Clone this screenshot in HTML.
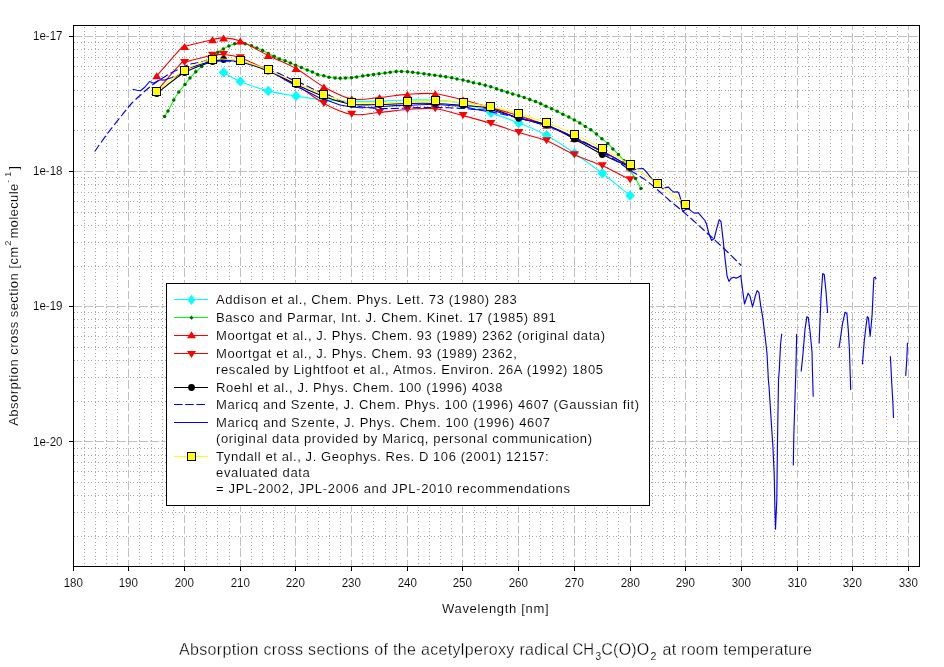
<!DOCTYPE html>
<html><head><meta charset="utf-8"><title>Absorption cross sections of CH3C(O)O2</title>
<style>
html,body{margin:0;padding:0;background:#fff;width:944px;height:667px;overflow:hidden}
svg{display:block}
text{font-family:"Liberation Sans",Arial,sans-serif;fill:#000;stroke:#fff;stroke-width:0.1px}
.ttl text{stroke-width:0.3px}
.mi{stroke:#a8a8a8;stroke-width:1;stroke-dasharray:1 2 1 3}
.miv{stroke:#a8a8a8;stroke-width:1;stroke-dasharray:1 3 1 2;stroke-dashoffset:-1}
.ma{stroke:#c0c0c0;stroke-width:1;stroke-dasharray:8.4 2.8;stroke-dashoffset:4}
.mah{stroke:#c0c0c0;stroke-width:1;stroke-dasharray:9 2;stroke-dashoffset:1}
</style></head><body>
<svg width="944" height="667" viewBox="0 0 944 667"><defs><clipPath id="clip"><rect x="74" y="26" width="845" height="540"/></clipPath></defs><g shape-rendering="crispEdges"><line x1="84.5" y1="26" x2="84.5" y2="566" class="miv"/><line x1="95.5" y1="26" x2="95.5" y2="566" class="miv"/><line x1="106.5" y1="26" x2="106.5" y2="566" class="miv"/><line x1="117.5" y1="26" x2="117.5" y2="566" class="miv"/><line x1="139.5" y1="26" x2="139.5" y2="566" class="miv"/><line x1="151.5" y1="26" x2="151.5" y2="566" class="miv"/><line x1="162.5" y1="26" x2="162.5" y2="566" class="miv"/><line x1="173.5" y1="26" x2="173.5" y2="566" class="miv"/><line x1="195.5" y1="26" x2="195.5" y2="566" class="miv"/><line x1="206.5" y1="26" x2="206.5" y2="566" class="miv"/><line x1="217.5" y1="26" x2="217.5" y2="566" class="miv"/><line x1="229.5" y1="26" x2="229.5" y2="566" class="miv"/><line x1="251.5" y1="26" x2="251.5" y2="566" class="miv"/><line x1="262.5" y1="26" x2="262.5" y2="566" class="miv"/><line x1="273.5" y1="26" x2="273.5" y2="566" class="miv"/><line x1="284.5" y1="26" x2="284.5" y2="566" class="miv"/><line x1="307.5" y1="26" x2="307.5" y2="566" class="miv"/><line x1="318.5" y1="26" x2="318.5" y2="566" class="miv"/><line x1="329.5" y1="26" x2="329.5" y2="566" class="miv"/><line x1="340.5" y1="26" x2="340.5" y2="566" class="miv"/><line x1="362.5" y1="26" x2="362.5" y2="566" class="miv"/><line x1="373.5" y1="26" x2="373.5" y2="566" class="miv"/><line x1="385.5" y1="26" x2="385.5" y2="566" class="miv"/><line x1="396.5" y1="26" x2="396.5" y2="566" class="miv"/><line x1="418.5" y1="26" x2="418.5" y2="566" class="miv"/><line x1="429.5" y1="26" x2="429.5" y2="566" class="miv"/><line x1="440.5" y1="26" x2="440.5" y2="566" class="miv"/><line x1="451.5" y1="26" x2="451.5" y2="566" class="miv"/><line x1="474.5" y1="26" x2="474.5" y2="566" class="miv"/><line x1="485.5" y1="26" x2="485.5" y2="566" class="miv"/><line x1="496.5" y1="26" x2="496.5" y2="566" class="miv"/><line x1="507.5" y1="26" x2="507.5" y2="566" class="miv"/><line x1="529.5" y1="26" x2="529.5" y2="566" class="miv"/><line x1="540.5" y1="26" x2="540.5" y2="566" class="miv"/><line x1="552.5" y1="26" x2="552.5" y2="566" class="miv"/><line x1="563.5" y1="26" x2="563.5" y2="566" class="miv"/><line x1="585.5" y1="26" x2="585.5" y2="566" class="miv"/><line x1="596.5" y1="26" x2="596.5" y2="566" class="miv"/><line x1="607.5" y1="26" x2="607.5" y2="566" class="miv"/><line x1="618.5" y1="26" x2="618.5" y2="566" class="miv"/><line x1="641.5" y1="26" x2="641.5" y2="566" class="miv"/><line x1="652.5" y1="26" x2="652.5" y2="566" class="miv"/><line x1="663.5" y1="26" x2="663.5" y2="566" class="miv"/><line x1="674.5" y1="26" x2="674.5" y2="566" class="miv"/><line x1="696.5" y1="26" x2="696.5" y2="566" class="miv"/><line x1="707.5" y1="26" x2="707.5" y2="566" class="miv"/><line x1="719.5" y1="26" x2="719.5" y2="566" class="miv"/><line x1="730.5" y1="26" x2="730.5" y2="566" class="miv"/><line x1="752.5" y1="26" x2="752.5" y2="566" class="miv"/><line x1="763.5" y1="26" x2="763.5" y2="566" class="miv"/><line x1="774.5" y1="26" x2="774.5" y2="566" class="miv"/><line x1="785.5" y1="26" x2="785.5" y2="566" class="miv"/><line x1="808.5" y1="26" x2="808.5" y2="566" class="miv"/><line x1="819.5" y1="26" x2="819.5" y2="566" class="miv"/><line x1="830.5" y1="26" x2="830.5" y2="566" class="miv"/><line x1="841.5" y1="26" x2="841.5" y2="566" class="miv"/><line x1="863.5" y1="26" x2="863.5" y2="566" class="miv"/><line x1="875.5" y1="26" x2="875.5" y2="566" class="miv"/><line x1="886.5" y1="26" x2="886.5" y2="566" class="miv"/><line x1="897.5" y1="26" x2="897.5" y2="566" class="miv"/><line x1="74" y1="536.5" x2="919" y2="536.5" class="mi"/><line x1="74" y1="512.5" x2="919" y2="512.5" class="mi"/><line x1="74" y1="495.5" x2="919" y2="495.5" class="mi"/><line x1="74" y1="482.5" x2="919" y2="482.5" class="mi"/><line x1="74" y1="471.5" x2="919" y2="471.5" class="mi"/><line x1="74" y1="462.5" x2="919" y2="462.5" class="mi"/><line x1="74" y1="455.5" x2="919" y2="455.5" class="mi"/><line x1="74" y1="448.5" x2="919" y2="448.5" class="mi"/><line x1="74" y1="401.5" x2="919" y2="401.5" class="mi"/><line x1="74" y1="377.5" x2="919" y2="377.5" class="mi"/><line x1="74" y1="360.5" x2="919" y2="360.5" class="mi"/><line x1="74" y1="347.5" x2="919" y2="347.5" class="mi"/><line x1="74" y1="336.5" x2="919" y2="336.5" class="mi"/><line x1="74" y1="327.5" x2="919" y2="327.5" class="mi"/><line x1="74" y1="319.5" x2="919" y2="319.5" class="mi"/><line x1="74" y1="312.5" x2="919" y2="312.5" class="mi"/><line x1="74" y1="266.5" x2="919" y2="266.5" class="mi"/><line x1="74" y1="242.5" x2="919" y2="242.5" class="mi"/><line x1="74" y1="225.5" x2="919" y2="225.5" class="mi"/><line x1="74" y1="212.5" x2="919" y2="212.5" class="mi"/><line x1="74" y1="201.5" x2="919" y2="201.5" class="mi"/><line x1="74" y1="192.5" x2="919" y2="192.5" class="mi"/><line x1="74" y1="184.5" x2="919" y2="184.5" class="mi"/><line x1="74" y1="177.5" x2="919" y2="177.5" class="mi"/><line x1="74" y1="130.5" x2="919" y2="130.5" class="mi"/><line x1="74" y1="106.5" x2="919" y2="106.5" class="mi"/><line x1="74" y1="90.5" x2="919" y2="90.5" class="mi"/><line x1="74" y1="76.5" x2="919" y2="76.5" class="mi"/><line x1="74" y1="66.5" x2="919" y2="66.5" class="mi"/><line x1="74" y1="57.5" x2="919" y2="57.5" class="mi"/><line x1="74" y1="49.5" x2="919" y2="49.5" class="mi"/><line x1="74" y1="42.5" x2="919" y2="42.5" class="mi"/><line x1="128.5" y1="26" x2="128.5" y2="566" class="ma"/><line x1="184.5" y1="26" x2="184.5" y2="566" class="ma"/><line x1="240.5" y1="26" x2="240.5" y2="566" class="ma"/><line x1="295.5" y1="26" x2="295.5" y2="566" class="ma"/><line x1="351.5" y1="26" x2="351.5" y2="566" class="ma"/><line x1="407.5" y1="26" x2="407.5" y2="566" class="ma"/><line x1="462.5" y1="26" x2="462.5" y2="566" class="ma"/><line x1="518.5" y1="26" x2="518.5" y2="566" class="ma"/><line x1="574.5" y1="26" x2="574.5" y2="566" class="ma"/><line x1="630.5" y1="26" x2="630.5" y2="566" class="ma"/><line x1="685.5" y1="26" x2="685.5" y2="566" class="ma"/><line x1="741.5" y1="26" x2="741.5" y2="566" class="ma"/><line x1="797.5" y1="26" x2="797.5" y2="566" class="ma"/><line x1="852.5" y1="26" x2="852.5" y2="566" class="ma"/><line x1="908.5" y1="26" x2="908.5" y2="566" class="ma"/><line x1="74" y1="36.5" x2="919" y2="36.5" class="mah"/><line x1="74" y1="171.5" x2="919" y2="171.5" class="mah"/><line x1="74" y1="306.5" x2="919" y2="306.5" class="mah"/><line x1="74" y1="441.5" x2="919" y2="441.5" class="mah"/></g>
<g clip-path="url(#clip)"><path d="M223.6,72.4C226.4,73.9 232.9,78.3 240.3,81.4C247.8,84.5 258.9,88.5 268.2,90.9C277.5,93.4 286.7,94.6 296,96.1C305.3,97.6 314.6,98.9 323.9,99.8C333.1,100.7 342.4,101.1 351.7,101.3C361,101.5 370.3,101.2 379.5,101C388.8,100.8 398.1,100.1 407.4,100C416.7,99.9 425.9,99.7 435.2,100.3C444.5,100.9 453.8,101.4 463.1,103.5C472.4,105.6 481.6,109.5 490.9,112.7C500.2,116 509.5,119.2 518.8,123C528,126.8 537.3,130.3 546.6,135.3C555.9,140.3 565.2,146.9 574.4,153.2C583.7,159.5 593,166.1 602.3,173.2C611.6,180.3 625.5,191.9 630.1,195.6" fill="none" stroke="#00ffff" stroke-width="1.1"/><g fill="#00ffff"><path d="M223.6,67.2 L228.4,72.4 L223.6,77.6 L218.8,72.4Z"/><path d="M240.3,76.2 L245.1,81.4 L240.3,86.6 L235.5,81.4Z"/><path d="M268.2,85.7 L273,90.9 L268.2,96.1 L263.4,90.9Z"/><path d="M296,90.9 L300.8,96.1 L296,101.3 L291.2,96.1Z"/><path d="M323.9,94.6 L328.7,99.8 L323.9,105 L319.1,99.8Z"/><path d="M351.7,96.1 L356.5,101.3 L351.7,106.5 L346.9,101.3Z"/><path d="M379.5,95.8 L384.3,101 L379.5,106.2 L374.7,101Z"/><path d="M407.4,94.8 L412.2,100 L407.4,105.2 L402.6,100Z"/><path d="M435.2,95.1 L440,100.3 L435.2,105.5 L430.4,100.3Z"/><path d="M463.1,98.3 L467.9,103.5 L463.1,108.7 L458.3,103.5Z"/><path d="M490.9,107.5 L495.7,112.7 L490.9,117.9 L486.1,112.7Z"/><path d="M518.8,117.8 L523.6,123 L518.8,128.2 L514,123Z"/><path d="M546.6,130.1 L551.4,135.3 L546.6,140.5 L541.8,135.3Z"/><path d="M574.4,148 L579.2,153.2 L574.4,158.4 L569.6,153.2Z"/><path d="M602.3,168 L607.1,173.2 L602.3,178.4 L597.5,173.2Z"/><path d="M630.1,190.4 L634.9,195.6 L630.1,200.8 L625.3,195.6Z"/></g><path d="M164.6,116.5C165.2,115.6 166.5,113.8 168,111C169.5,108.2 172,103.2 173.8,100C175.6,96.8 176.9,94.6 178.8,92C180.7,89.4 183.1,86.9 185,84.6C186.9,82.2 188.2,80 190,77.9C191.8,75.8 193.9,73.7 195.8,71.8C197.8,69.9 199.8,68.2 201.7,66.5C203.6,64.8 205.2,63.2 207,61.5C208.8,59.8 210.7,58 212.5,56.5C214.3,55 216,53.5 217.8,52.2C219.6,50.9 221.6,50 223.4,48.9C225.2,47.8 227,46.8 228.9,45.9C230.8,45 232.8,44.3 234.7,43.8C236.5,43.3 238.2,42.8 240,42.8C241.8,42.8 243.3,43.2 245.2,43.7C247.1,44.2 249.6,45.1 251.5,45.8C253.4,46.5 255,47.1 256.8,47.9C258.7,48.7 260.7,49.5 262.6,50.5C264.5,51.5 266.4,52.6 268.3,53.6C270.2,54.6 272.3,55.4 274.1,56.3C275.9,57.2 277.5,58.1 279.3,58.9C281.1,59.6 283.2,60.1 285.1,60.8C287,61.5 288.6,62.4 290.4,63.1C292.1,63.8 293.8,64.5 295.6,65.2C297.4,65.9 299.5,66.7 301.4,67.5C303.3,68.3 305.4,69.2 307.2,69.9C309,70.7 310.7,71.2 312.4,72C314.1,72.8 315.7,73.8 317.6,74.4C319.5,75 321.9,75.3 323.8,75.8C325.7,76.3 327.1,76.8 329,77.2C330.9,77.6 333.1,77.8 335,78C336.9,78.2 338.4,78.2 340.2,78.2C341.9,78.2 343.6,78.1 345.5,78C347.4,77.9 349.6,77.9 351.5,77.7C353.4,77.5 354.8,77.3 356.7,77C358.6,76.7 360.8,76.2 362.7,75.9C364.6,75.6 366.2,75.4 368,75.2C369.8,75 371.7,74.8 373.5,74.5C375.3,74.2 377.1,74 379,73.7C380.9,73.5 383.1,73.2 385,73C386.9,72.8 388.3,72.4 390.2,72.2C392.1,72 394.3,71.7 396.2,71.6C398.1,71.5 399.6,71.5 401.5,71.5C403.4,71.5 405.6,71.7 407.5,71.8C409.4,71.9 410.9,72 412.7,72.2C414.4,72.4 416.1,72.8 418,73C419.9,73.2 422.1,73.5 424,73.7C425.9,74 427.4,74.2 429.2,74.5C431,74.8 432.9,75 434.8,75.2C436.7,75.5 438.7,75.7 440.5,76C442.3,76.3 443.8,76.5 445.7,76.8C447.6,77.1 449.8,77.4 451.7,77.8C453.6,78.2 455.1,78.6 457,79C458.9,79.4 461.1,79.6 463,80C464.9,80.4 466.4,80.8 468.2,81.2C469.9,81.7 471.6,82.3 473.5,82.7C475.4,83.1 477.6,83.4 479.5,83.8C481.4,84.2 483.3,84.7 485.2,85.2C487.1,85.7 488.9,86.2 490.8,86.8C492.7,87.4 494.7,88.1 496.5,88.7C498.3,89.3 499.9,90 501.7,90.6C503.5,91.2 505.5,91.7 507.3,92.2C509.1,92.8 510.8,93.3 512.7,93.9C514.6,94.5 516.8,95.2 518.7,95.8C520.6,96.4 522.4,96.9 524.2,97.5C526.1,98.1 527.9,98.9 529.8,99.6C531.7,100.3 533.7,100.9 535.5,101.6C537.3,102.3 539,103 540.7,103.8C542.5,104.6 544.2,105.4 546,106.2C547.8,107 549.8,108 551.7,108.8C553.6,109.6 555.3,110.3 557.2,111.2C559.1,112.1 561,113.3 562.9,114.3C564.8,115.3 566.9,116.1 568.8,117.1C570.7,118.1 572.5,119.1 574.3,120.1C576.1,121.1 578,122 579.8,123C581.6,124 583.5,125.3 585.3,126.4C587.1,127.5 588.9,128.5 590.8,129.8C592.6,131.1 594.5,132.6 596.4,134.1C598.2,135.6 600,137.1 601.9,138.7C603.8,140.2 606,141.7 607.8,143.4C609.6,145.1 611.1,147.1 612.9,148.9C614.7,150.7 616.5,152.4 618.4,154.4C620.2,156.4 622.1,158.2 624,160.8C625.9,163.4 627.8,167.2 629.7,170.2C631.6,173.1 633.6,175.4 635.5,178.5C637.4,181.6 640.1,186.9 641,188.6" fill="none" stroke="#00ff00" stroke-width="1.1"/><g fill="#006800"><circle cx="164.6" cy="116.5" r="1.75"/><circle cx="168" cy="111" r="1.75"/><circle cx="173.8" cy="100" r="1.75"/><circle cx="178.8" cy="92" r="1.75"/><circle cx="185" cy="84.6" r="1.75"/><circle cx="190" cy="77.9" r="1.75"/><circle cx="195.8" cy="71.8" r="1.75"/><circle cx="201.7" cy="66.5" r="1.75"/><circle cx="207" cy="61.5" r="1.75"/><circle cx="212.5" cy="56.5" r="1.75"/><circle cx="217.8" cy="52.2" r="1.75"/><circle cx="223.4" cy="48.9" r="1.75"/><circle cx="228.9" cy="45.9" r="1.75"/><circle cx="234.7" cy="43.8" r="1.75"/><circle cx="240" cy="42.8" r="1.75"/><circle cx="245.2" cy="43.7" r="1.75"/><circle cx="251.5" cy="45.8" r="1.75"/><circle cx="256.8" cy="47.9" r="1.75"/><circle cx="262.6" cy="50.5" r="1.75"/><circle cx="268.3" cy="53.6" r="1.75"/><circle cx="274.1" cy="56.3" r="1.75"/><circle cx="279.3" cy="58.9" r="1.75"/><circle cx="285.1" cy="60.8" r="1.75"/><circle cx="290.4" cy="63.1" r="1.75"/><circle cx="295.6" cy="65.2" r="1.75"/><circle cx="301.4" cy="67.5" r="1.75"/><circle cx="307.2" cy="69.9" r="1.75"/><circle cx="312.4" cy="72" r="1.75"/><circle cx="317.6" cy="74.4" r="1.75"/><circle cx="323.8" cy="75.8" r="1.75"/><circle cx="329" cy="77.2" r="1.75"/><circle cx="335" cy="78" r="1.75"/><circle cx="340.2" cy="78.2" r="1.75"/><circle cx="345.5" cy="78" r="1.75"/><circle cx="351.5" cy="77.7" r="1.75"/><circle cx="356.7" cy="77" r="1.75"/><circle cx="362.7" cy="75.9" r="1.75"/><circle cx="368" cy="75.2" r="1.75"/><circle cx="373.5" cy="74.5" r="1.75"/><circle cx="379" cy="73.7" r="1.75"/><circle cx="385" cy="73" r="1.75"/><circle cx="390.2" cy="72.2" r="1.75"/><circle cx="396.2" cy="71.6" r="1.75"/><circle cx="401.5" cy="71.5" r="1.75"/><circle cx="407.5" cy="71.8" r="1.75"/><circle cx="412.7" cy="72.2" r="1.75"/><circle cx="418" cy="73" r="1.75"/><circle cx="424" cy="73.7" r="1.75"/><circle cx="429.2" cy="74.5" r="1.75"/><circle cx="434.8" cy="75.2" r="1.75"/><circle cx="440.5" cy="76" r="1.75"/><circle cx="445.7" cy="76.8" r="1.75"/><circle cx="451.7" cy="77.8" r="1.75"/><circle cx="457" cy="79" r="1.75"/><circle cx="463" cy="80" r="1.75"/><circle cx="468.2" cy="81.2" r="1.75"/><circle cx="473.5" cy="82.7" r="1.75"/><circle cx="479.5" cy="83.8" r="1.75"/><circle cx="485.2" cy="85.2" r="1.75"/><circle cx="490.8" cy="86.8" r="1.75"/><circle cx="496.5" cy="88.7" r="1.75"/><circle cx="501.7" cy="90.6" r="1.75"/><circle cx="507.3" cy="92.2" r="1.75"/><circle cx="512.7" cy="93.9" r="1.75"/><circle cx="518.7" cy="95.8" r="1.75"/><circle cx="524.2" cy="97.5" r="1.75"/><circle cx="529.8" cy="99.6" r="1.75"/><circle cx="535.5" cy="101.6" r="1.75"/><circle cx="540.7" cy="103.8" r="1.75"/><circle cx="546" cy="106.2" r="1.75"/><circle cx="551.7" cy="108.8" r="1.75"/><circle cx="557.2" cy="111.2" r="1.75"/><circle cx="562.9" cy="114.3" r="1.75"/><circle cx="568.8" cy="117.1" r="1.75"/><circle cx="574.3" cy="120.1" r="1.75"/><circle cx="579.8" cy="123" r="1.75"/><circle cx="585.3" cy="126.4" r="1.75"/><circle cx="590.8" cy="129.8" r="1.75"/><circle cx="596.4" cy="134.1" r="1.75"/><circle cx="601.9" cy="138.7" r="1.75"/><circle cx="607.8" cy="143.4" r="1.75"/><circle cx="612.9" cy="148.9" r="1.75"/><circle cx="618.4" cy="154.4" r="1.75"/><circle cx="624" cy="160.8" r="1.75"/><circle cx="629.7" cy="170.2" r="1.75"/><circle cx="635.5" cy="178.5" r="1.75"/><circle cx="641" cy="188.6" r="1.75"/></g><path d="M156.8,75.8C160.6,71.5 175,54.7 179.6,49.8C184.3,44.9 179.2,48.1 184.6,46.4C190.1,44.7 206,41.1 212.5,39.7C219,38.3 219,37.7 223.6,37.9C228.3,38.1 232.9,38.2 240.3,41.1C247.8,44 258.9,50.9 268.2,55.5C277.5,60.1 286.7,63.3 296,68.6C305.3,73.8 314.6,81.9 323.9,87C333.1,92.1 342.4,97.2 351.7,99C361,100.8 370.3,98.3 379.5,97.5C388.8,96.7 398.1,95 407.4,94.4C416.7,93.8 425.9,92.8 435.2,93.7C444.5,94.6 453.8,97.7 463.1,100C472.4,102.3 481.6,105 490.9,107.6C500.2,110.2 509.5,112.8 518.8,115.8C528,118.8 537.3,121.5 546.6,125.3C555.9,129.1 565.2,134.2 574.4,138.5C583.7,142.8 593,146.2 602.3,151C611.6,155.8 625.5,164.3 630.1,167" fill="none" stroke="#ff0000" stroke-width="1.1"/><g fill="#ff0000"><path d="M156.8,72.3 L161.3,79.3 L152.3,79.3Z"/><path d="M184.6,42.9 L189.1,49.9 L180.1,49.9Z"/><path d="M212.5,36.2 L217,43.2 L208,43.2Z"/><path d="M223.6,34.4 L228.1,41.4 L219.1,41.4Z"/><path d="M240.3,37.6 L244.8,44.6 L235.8,44.6Z"/><path d="M268.2,52 L272.7,59 L263.7,59Z"/><path d="M296,65.1 L300.5,72.1 L291.5,72.1Z"/><path d="M323.9,83.5 L328.4,90.5 L319.4,90.5Z"/><path d="M351.7,95.5 L356.2,102.5 L347.2,102.5Z"/><path d="M379.5,94 L384,101 L375,101Z"/><path d="M407.4,90.9 L411.9,97.9 L402.9,97.9Z"/><path d="M435.2,90.2 L439.7,97.2 L430.7,97.2Z"/><path d="M463.1,96.5 L467.6,103.5 L458.6,103.5Z"/><path d="M490.9,104.1 L495.4,111.1 L486.4,111.1Z"/><path d="M518.8,112.3 L523.3,119.3 L514.3,119.3Z"/><path d="M546.6,121.8 L551.1,128.8 L542.1,128.8Z"/><path d="M574.4,135 L578.9,142 L569.9,142Z"/><path d="M602.3,147.5 L606.8,154.5 L597.8,154.5Z"/><path d="M630.1,163.5 L634.6,170.5 L625.6,170.5Z"/></g><path d="M156.8,91C160.6,86.6 175,69.6 179.6,64.8C184.3,60 179.2,64 184.6,62.4C190.1,60.8 206,56.6 212.5,55.3C219,54 219,54.2 223.6,54.6C228.3,55 232.9,55.1 240.3,57.7C247.8,60.3 258.9,65.8 268.2,70.3C277.5,74.8 286.7,79.1 296,84.6C305.3,90.1 314.6,98.5 323.9,103.4C333.1,108.4 342.4,112.8 351.7,114.3C361,115.8 370.3,113.3 379.5,112.5C388.8,111.7 398.1,110.1 407.4,109.5C416.7,108.9 425.9,107.7 435.2,108.7C444.5,109.7 453.8,113.1 463.1,115.6C472.4,118 481.6,120.6 490.9,123.4C500.2,126.2 509.5,129.6 518.8,132.5C528,135.4 537.3,137.1 546.6,140.8C555.9,144.5 565.2,150.6 574.4,154.8C583.7,159 593,161.7 602.3,165.8C611.6,170 625.5,177.4 630.1,179.7" fill="none" stroke="#ff0000" stroke-width="1.1"/><g fill="#ff0000"><path d="M152.3,87.5 L161.3,87.5 L156.8,94.5Z"/><path d="M180.1,58.9 L189.1,58.9 L184.6,65.9Z"/><path d="M208,51.8 L217,51.8 L212.5,58.8Z"/><path d="M219.1,51.1 L228.1,51.1 L223.6,58.1Z"/><path d="M235.8,54.2 L244.8,54.2 L240.3,61.2Z"/><path d="M263.7,66.8 L272.7,66.8 L268.2,73.8Z"/><path d="M291.5,81.1 L300.5,81.1 L296,88.1Z"/><path d="M319.4,99.9 L328.4,99.9 L323.9,106.9Z"/><path d="M347.2,110.8 L356.2,110.8 L351.7,117.8Z"/><path d="M375,109 L384,109 L379.5,116Z"/><path d="M402.9,106 L411.9,106 L407.4,113Z"/><path d="M430.7,105.2 L439.7,105.2 L435.2,112.2Z"/><path d="M458.6,112.1 L467.6,112.1 L463.1,119.1Z"/><path d="M486.4,119.9 L495.4,119.9 L490.9,126.9Z"/><path d="M514.3,129 L523.3,129 L518.8,136Z"/><path d="M542.1,137.3 L551.1,137.3 L546.6,144.3Z"/><path d="M569.9,151.3 L578.9,151.3 L574.4,158.3Z"/><path d="M597.8,162.3 L606.8,162.3 L602.3,169.3Z"/><path d="M625.6,176.2 L634.6,176.2 L630.1,183.2Z"/></g><path d="M156.8,93.5C161.4,90 175.4,77.8 184.6,72.5C193.9,67.2 206,63.7 212.5,61.5C219,59.3 219,59.5 223.6,59.5C228.3,59.5 232.9,59.6 240.3,61.5C247.8,63.4 258.9,67.2 268.2,71C277.5,74.8 286.7,80.2 296,84.5C305.3,88.8 314.6,93.2 323.9,96.5C333.1,99.8 342.4,103 351.7,104.3C361,105.6 370.3,104.6 379.5,104.5C388.8,104.4 398.1,103.7 407.4,103.5C416.7,103.3 425.9,103.2 435.2,103.5C444.5,103.8 453.8,104.7 463.1,105.5C472.4,106.3 481.6,106.4 490.9,108.5C500.2,110.6 509.5,115.6 518.8,118.3C528,121 537.3,121.3 546.6,124.8C555.9,128.2 565.2,134.1 574.4,139C583.7,143.9 593,149.8 602.3,154.5C611.6,159.2 625.5,164.9 630.1,167" fill="none" stroke="#000000" stroke-width="1.1"/><g fill="#000000"><circle cx="156.8" cy="93.5" r="3.4"/><circle cx="184.6" cy="72.5" r="3.4"/><circle cx="212.5" cy="61.5" r="3.4"/><circle cx="223.6" cy="59.5" r="3.4"/><circle cx="240.3" cy="61.5" r="3.4"/><circle cx="268.2" cy="71" r="3.4"/><circle cx="296" cy="84.5" r="3.4"/><circle cx="323.9" cy="96.5" r="3.4"/><circle cx="351.7" cy="104.3" r="3.4"/><circle cx="379.5" cy="104.5" r="3.4"/><circle cx="407.4" cy="103.5" r="3.4"/><circle cx="435.2" cy="103.5" r="3.4"/><circle cx="463.1" cy="105.5" r="3.4"/><circle cx="490.9" cy="108.5" r="3.4"/><circle cx="518.8" cy="118.3" r="3.4"/><circle cx="546.6" cy="124.8" r="3.4"/><circle cx="574.4" cy="139" r="3.4"/><circle cx="602.3" cy="154.5" r="3.4"/><circle cx="630.1" cy="167" r="3.4"/></g><path d="M94.7,151.5C96.8,148.5 103,139.5 107.5,133.5C112,127.5 117.7,120.5 121.7,115.5C125.7,110.5 128.1,107.1 131.5,103.5C134.9,99.9 138.8,96.6 142,93.7C145.2,90.8 148.3,88.1 151,86C153.7,83.9 155.8,82.5 158,81C160.2,79.5 162.4,78.2 164.4,77C166.4,75.8 167.8,74.7 170,73.5C172.2,72.3 175.2,70.9 177.5,69.7C179.8,68.5 181.9,67.4 184,66.5C186.1,65.6 188.2,64.8 190,64.2C191.8,63.7 193,63.6 195,63.2C197,62.8 200,62 202,61.6C204,61.2 204.8,60.9 207,60.7C209.2,60.5 212,60.3 215,60.3C218,60.3 220.8,60.3 225,60.6C229.2,60.9 235,61.4 240,62.3C245,63.2 249.5,64.3 255,65.8C260.5,67.3 267.8,69.5 272.8,71.2C277.8,72.9 281.1,74.5 285,76.2C288.9,77.9 292.8,80.1 296,81.5C299.2,82.9 300.7,83.1 304.4,84.8C308.1,86.5 314.1,89.6 318.3,91.4C322.5,93.2 326,94.1 329.6,95.6C333.2,97.1 336.3,99 340,100.5C343.7,102 348,103.4 352,104.5C356,105.6 359.7,106.5 364,107.2C368.3,107.9 373,108.2 378,108.4C383,108.6 389.2,108.6 394,108.5C398.8,108.4 402.5,108.2 407,108C411.5,107.8 416.3,107.7 421,107.6C425.7,107.5 430.3,107.5 435,107.5C439.7,107.5 444.3,107.6 449,107.8C453.7,108 458.3,108.1 463,108.4C467.7,108.7 472.3,109.2 477,109.8C481.7,110.4 486.3,111.2 491,112C495.7,112.8 500.3,113.8 505,114.8C509.7,115.8 514.3,116.8 519,118C523.7,119.2 528.5,120.5 533,121.8C537.5,123.1 541.5,124.5 546,126C550.5,127.5 555.3,129.1 560,131C564.7,132.9 569.3,135 574,137.2C578.7,139.4 583.3,141.5 588,144C592.7,146.5 597.3,149.2 602,152C606.7,154.8 611.2,157.4 616,160.5C620.8,163.6 625.8,167.4 630.6,170.6C635.4,173.8 640.5,176.4 645,179.6C649.5,182.8 653.7,186.6 657.7,190C661.7,193.4 664.8,196.5 669.2,200.2C673.6,203.9 679.2,208.3 684,212.4C688.8,216.5 693.5,220.8 698.2,225C702.9,229.2 707.4,233.2 712,237.5C716.6,241.8 721.1,245.8 726,250.5C730.9,255.2 738.7,263 741.2,265.5" fill="none" stroke="#0000ff" stroke-width="1.15" stroke-dasharray="8 3"/><path d="M132.7,89.2 L137,90.2 L140.5,90.7 L145,87 L149.5,81.5 L152,82.5 L153.5,83.3 L157,81.3 L160.4,79.7 L164.9,80.1 L168,78.7 L171.6,77.8 L175.2,76.9 L178.8,74.8 L181,73.5 L185,70.5 L190,67.6 L195,66.1 L201,64.3 L207,62.6 L212,61.8 L217,61.2 L224,60.8 L232.6,60.8 L240,61.5 L250,64 L262,68 L274.6,73.5 L285,79.8 L290.8,82.9 L296,86.3 L301.8,88.9 L310,93 L318.3,97.2 L329.8,101.3 L340,105 L350,106.8 L360,107.8 L370,107.5 L382.8,106.5 L395,105.6 L406.9,105.5 L420,104.8 L435,104.3 L450,105.5 L463,106.2 L470,108 L477,109.8 L485.4,108.8 L494,110.8 L502.4,113.2 L511,115.5 L519.3,117.9 L530,120.8 L540,123.8 L546.4,126 L560,130.5 L574.3,137.8 L588,144.5 L601.9,151.5 L615,158 L626,164.5 L634.2,169.7 L638.7,168.8 L643.2,168.6 L646.8,172.4 L652.3,179.6 L657,183.5 L663.1,188.8 L666.5,187.4 L668.5,187.1 L671.2,190.1 L673.9,192.1 L677.3,191.8 L678.6,192.8 L679.6,195.5 L680.6,198.9 L681.7,209 L683.3,211.4 L685,210 L686.7,209 L689.4,209.4 L691.8,211.4 L694.1,213.1 L698.2,212.7 L700.9,215.8 L704.9,220.5 L706.5,224 L708.8,233.2 L711.5,240.4 L714.2,238.6 L716.9,227.8 L719.2,219.7 L721,221.5 L723.2,240.4 L725,258.3 L727.1,276.3 L729,281.4 L731.3,278.1 L734,277.2 L736.1,278.1 L738.4,277.2 L740.8,275.4 L742.7,290.6 L744.5,304 L748.1,293.3 L749.9,296 L752.6,306.8 L755.3,296 L757.1,290.6 L758.9,292.4 L760.7,305.9 L762.5,315.8 L765.2,337.3 L767,353.5 L768.4,380 L769.1,387.8 L770.4,408.2 L771.7,428.6 L772.9,446.4 L774.2,474.5 L775,512.7 L775.5,529.2 L776.8,500 L777.5,441.3 L778.5,380.2 L779.3,370 L780.5,345 L781.7,333.7" fill="none" stroke="#0000ff" stroke-width="1.15" stroke-linejoin="round"/><path d="M793.3,465.5 L793.8,436.2 L795.3,387.8 L795.9,370 L796.7,333.7" fill="none" stroke="#0000ff" stroke-width="1.15" stroke-linejoin="round"/><path d="M801.2,371.5 L803,353.5 L805.1,328.3 L806.9,316.7 L808.3,317.6 L810.1,332 L812,351.7 L812.4,370 L813.2,396.8" fill="none" stroke="#0000ff" stroke-width="1.15" stroke-linejoin="round"/><path d="M819.1,343.6 L820,321.2 L821,297.8 L822.7,273.5 L824.2,274.4 L826,291.5 L827.6,313" fill="none" stroke="#0000ff" stroke-width="1.15" stroke-linejoin="round"/><path d="M839,347.8 L840,341.5 L842.5,323.7 L845.1,312.2 L846.9,313.5 L848.2,328.8 L849.4,349.2 L850.2,374.6 L850.7,390" fill="none" stroke="#0000ff" stroke-width="1.15" stroke-linejoin="round"/><path d="M862.4,364.5 L864.2,341.5 L866,326.2 L867.3,316.6 L868.5,318.1 L870.1,336.4 L871.1,326.2 L872.1,314.8 L873.1,293.1 L873.9,277.8 L875.2,277.3 L876.2,279.1" fill="none" stroke="#0000ff" stroke-width="1.15" stroke-linejoin="round"/><path d="M890.4,356.3 L891.7,382.3 L893,405.2 L893.5,418" fill="none" stroke="#0000ff" stroke-width="1.15" stroke-linejoin="round"/><path d="M905.7,375.9 L906.8,359.4 L907.5,342.8" fill="none" stroke="#0000ff" stroke-width="1.15" stroke-linejoin="round"/><path d="M156.8,91.4C161.4,87.8 175.4,75.3 184.6,70C193.9,64.7 203.2,61.1 212.5,59.6C221.8,58.1 231,59.2 240.3,60.9C249.6,62.6 258.9,66.2 268.2,69.9C277.5,73.6 286.7,78.7 296,82.8C305.3,86.9 314.6,91.5 323.9,94.7C333.1,97.9 342.4,100.7 351.7,102C361,103.3 370.3,102.8 379.5,102.8C388.8,102.8 398.1,102.1 407.4,101.8C416.7,101.5 425.9,100.7 435.2,100.9C444.5,101.1 453.8,101.8 463.1,102.8C472.4,103.8 481.6,105 490.9,106.8C500.2,108.6 509.5,110.8 518.8,113.5C528,116.2 537.3,119.3 546.6,122.8C555.9,126.3 565.2,130.4 574.4,134.7C583.7,139 593,143.7 602.3,148.7C611.6,153.7 620.8,158.9 630.1,164.8C639.4,170.7 648.7,177.4 658,183.9C667.2,190.4 681.2,200.7 685.8,204" fill="none" stroke="#ffff00" stroke-width="1.1"/><g fill="#ffff00" stroke="#000" stroke-width="1" shape-rendering="crispEdges"><rect x="152.5" y="87.5" width="8" height="8"/><rect x="180.5" y="66.5" width="8" height="8"/><rect x="208.5" y="55.5" width="8" height="8"/><rect x="236.5" y="56.5" width="8" height="8"/><rect x="264.5" y="65.5" width="8" height="8"/><rect x="292.5" y="78.5" width="8" height="8"/><rect x="319.5" y="90.5" width="8" height="8"/><rect x="347.5" y="98.5" width="8" height="8"/><rect x="375.5" y="98.5" width="8" height="8"/><rect x="403.5" y="97.5" width="8" height="8"/><rect x="431.5" y="96.5" width="8" height="8"/><rect x="459.5" y="98.5" width="8" height="8"/><rect x="486.5" y="102.5" width="8" height="8"/><rect x="514.5" y="109.5" width="8" height="8"/><rect x="542.5" y="118.5" width="8" height="8"/><rect x="570.5" y="130.5" width="8" height="8"/><rect x="598.5" y="144.5" width="8" height="8"/><rect x="626.5" y="160.5" width="8" height="8"/><rect x="653.5" y="179.5" width="8" height="8"/><rect x="681.5" y="200.5" width="8" height="8"/></g></g>
<g stroke="#000" stroke-width="1" shape-rendering="crispEdges"><rect x="73.5" y="25.5" width="846" height="541" fill="none" stroke="#000"/><line x1="73.5" y1="566" x2="73.5" y2="571"/><line x1="128.5" y1="566" x2="128.5" y2="571"/><line x1="184.5" y1="566" x2="184.5" y2="571"/><line x1="240.5" y1="566" x2="240.5" y2="571"/><line x1="295.5" y1="566" x2="295.5" y2="571"/><line x1="351.5" y1="566" x2="351.5" y2="571"/><line x1="407.5" y1="566" x2="407.5" y2="571"/><line x1="462.5" y1="566" x2="462.5" y2="571"/><line x1="518.5" y1="566" x2="518.5" y2="571"/><line x1="574.5" y1="566" x2="574.5" y2="571"/><line x1="630.5" y1="566" x2="630.5" y2="571"/><line x1="685.5" y1="566" x2="685.5" y2="571"/><line x1="741.5" y1="566" x2="741.5" y2="571"/><line x1="797.5" y1="566" x2="797.5" y2="571"/><line x1="852.5" y1="566" x2="852.5" y2="571"/><line x1="908.5" y1="566" x2="908.5" y2="571"/><line x1="69" y1="36.5" x2="73" y2="36.5"/><line x1="69" y1="171.5" x2="73" y2="171.5"/><line x1="69" y1="306.5" x2="73" y2="306.5"/><line x1="69" y1="441.5" x2="73" y2="441.5"/></g>
<g font-size="13"><text x="62.5" y="40" text-anchor="end" textLength="29.5" lengthAdjust="spacingAndGlyphs">1e-17</text><text x="62.5" y="175" text-anchor="end" textLength="29.5" lengthAdjust="spacingAndGlyphs">1e-18</text><text x="62.5" y="310" text-anchor="end" textLength="29.5" lengthAdjust="spacingAndGlyphs">1e-19</text><text x="62.5" y="446" text-anchor="end" textLength="29.5" lengthAdjust="spacingAndGlyphs">1e-20</text><text x="73.3" y="586.6" text-anchor="middle" textLength="19.3" lengthAdjust="spacingAndGlyphs">180</text><text x="128.3" y="586.6" text-anchor="middle" textLength="19.3" lengthAdjust="spacingAndGlyphs">190</text><text x="184.3" y="586.6" text-anchor="middle" textLength="19.3" lengthAdjust="spacingAndGlyphs">200</text><text x="240.3" y="586.6" text-anchor="middle" textLength="19.3" lengthAdjust="spacingAndGlyphs">210</text><text x="295.3" y="586.6" text-anchor="middle" textLength="19.3" lengthAdjust="spacingAndGlyphs">220</text><text x="351.3" y="586.6" text-anchor="middle" textLength="19.3" lengthAdjust="spacingAndGlyphs">230</text><text x="407.3" y="586.6" text-anchor="middle" textLength="19.3" lengthAdjust="spacingAndGlyphs">240</text><text x="462.3" y="586.6" text-anchor="middle" textLength="19.3" lengthAdjust="spacingAndGlyphs">250</text><text x="518.3" y="586.6" text-anchor="middle" textLength="19.3" lengthAdjust="spacingAndGlyphs">260</text><text x="574.3" y="586.6" text-anchor="middle" textLength="19.3" lengthAdjust="spacingAndGlyphs">270</text><text x="630.3" y="586.6" text-anchor="middle" textLength="19.3" lengthAdjust="spacingAndGlyphs">280</text><text x="685.3" y="586.6" text-anchor="middle" textLength="19.3" lengthAdjust="spacingAndGlyphs">290</text><text x="741.3" y="586.6" text-anchor="middle" textLength="19.3" lengthAdjust="spacingAndGlyphs">300</text><text x="797.3" y="586.6" text-anchor="middle" textLength="19.3" lengthAdjust="spacingAndGlyphs">310</text><text x="852.3" y="586.6" text-anchor="middle" textLength="19.3" lengthAdjust="spacingAndGlyphs">320</text><text x="908.3" y="586.6" text-anchor="middle" textLength="19.3" lengthAdjust="spacingAndGlyphs">330</text></g>
<text x="442" y="612.5" font-size="13" textLength="106.6" lengthAdjust="spacing">Wavelength [nm]</text>
<g transform="translate(18.4,425.8) rotate(-90)" font-size="13"><text x="0" y="0" textLength="179" lengthAdjust="spacing">Absorption cross section [cm</text><text x="180" y="-7.5" font-size="9" textLength="5.2" lengthAdjust="spacingAndGlyphs">2</text><text x="187.2" y="0" textLength="54.8" lengthAdjust="spacing">molecule</text><text x="243" y="-7.5" font-size="9" textLength="11" lengthAdjust="spacing">-1</text><text x="256" y="0">]</text></g>
<g class="ttl" font-size="16"><text x="179" y="655" textLength="389.5" lengthAdjust="spacing">Absorption cross sections of the acetylperoxy radical</text><text x="572.5" y="655" textLength="21.5" lengthAdjust="spacingAndGlyphs">CH</text><text x="595.4" y="659.5" font-size="11" style="stroke-width:0.12px" textLength="5.6" lengthAdjust="spacingAndGlyphs">3</text><text x="601.3" y="655" textLength="48" lengthAdjust="spacing">C(O)O</text><text x="650.4" y="659.5" font-size="11" style="stroke-width:0.12px" textLength="5.9" lengthAdjust="spacingAndGlyphs">2</text><text x="662.5" y="655" textLength="149.5" lengthAdjust="spacing">at room temperature</text></g>
<g font-size="13"><rect x="166.5" y="283.5" width="483" height="222" fill="#fff" stroke="#000" shape-rendering="crispEdges"/><line x1="174" y1="299.5" x2="208" y2="299.5" stroke="#00ffff"/><g fill="#00ffff"><path d="M191.5,294.8 L195.3,299.9 L191.5,305 L187.7,299.9Z"/></g><text x="216" y="304" textLength="300.8" lengthAdjust="spacing">Addison et al., Chem. Phys. Lett. 73 (1980) 283</text><line x1="174" y1="317.5" x2="208" y2="317.5" stroke="#00ff00"/><g fill="#006400"><path d="M191.5,315.6 L193.6,317.7 L191.5,319.8 L189.4,317.7Z"/></g><text x="216" y="322" textLength="339.8" lengthAdjust="spacing">Basco and Parmar, Int. J. Chem. Kinet. 17 (1985) 891</text><line x1="174" y1="335.5" x2="208" y2="335.5" stroke="#ff0000"/><g fill="#ff0000"><path d="M191.5,331.2 L196,338.2 L187,338.2Z"/></g><text x="216" y="340" textLength="389" lengthAdjust="spacing">Moortgat et al., J. Phys. Chem. 93 (1989) 2362 (original data)</text><line x1="174" y1="353.5" x2="208" y2="353.5" stroke="#ff0000"/><g fill="#ff0000"><path d="M187,351 L196,351 L191.5,358Z"/></g><text x="216" y="358" textLength="300.8" lengthAdjust="spacing">Moortgat et al., J. Phys. Chem. 93 (1989) 2362,</text><text x="216" y="374" textLength="387" lengthAdjust="spacing">rescaled by Lightfoot et al., Atmos. Environ. 26A (1992) 1805</text><line x1="174" y1="387.5" x2="208" y2="387.5" stroke="#000"/><circle cx="191.5" cy="387.5" r="3.4" fill="#000"/><text x="216" y="392" textLength="286.4" lengthAdjust="spacing">Roehl et al., J. Phys. Chem. 100 (1996) 4038</text><line x1="174" y1="404.5" x2="205.3" y2="404.5" stroke="#0000ff" stroke-dasharray="8.6 2.6"/><text x="216" y="409" textLength="423" lengthAdjust="spacing">Maricq and Szente, J. Chem. Phys. 100 (1996) 4607 (Gaussian fit)</text><line x1="174" y1="422.5" x2="208" y2="422.5" stroke="#0000ff"/><text x="216" y="427" textLength="334" lengthAdjust="spacing">Maricq and Szente, J. Phys. Chem. 100 (1996) 4607</text><text x="216" y="443" textLength="376" lengthAdjust="spacing">(original data provided by Maricq, personal communication)</text><line x1="174" y1="456.5" x2="208" y2="456.5" stroke="#ffff00"/><rect x="187.5" y="452.5" width="8" height="8" fill="#ffff00" stroke="#000" shape-rendering="crispEdges"/><text x="216" y="461" textLength="332.7" lengthAdjust="spacing">Tyndall et al., J. Geophys. Res. D 106 (2001) 12157:</text><text x="216" y="477" textLength="93.8" lengthAdjust="spacing">evaluated data</text><text x="216" y="493" textLength="354" lengthAdjust="spacing">= JPL-2002, JPL-2006 and JPL-2010 recommendations</text></g></svg>
</body></html>
